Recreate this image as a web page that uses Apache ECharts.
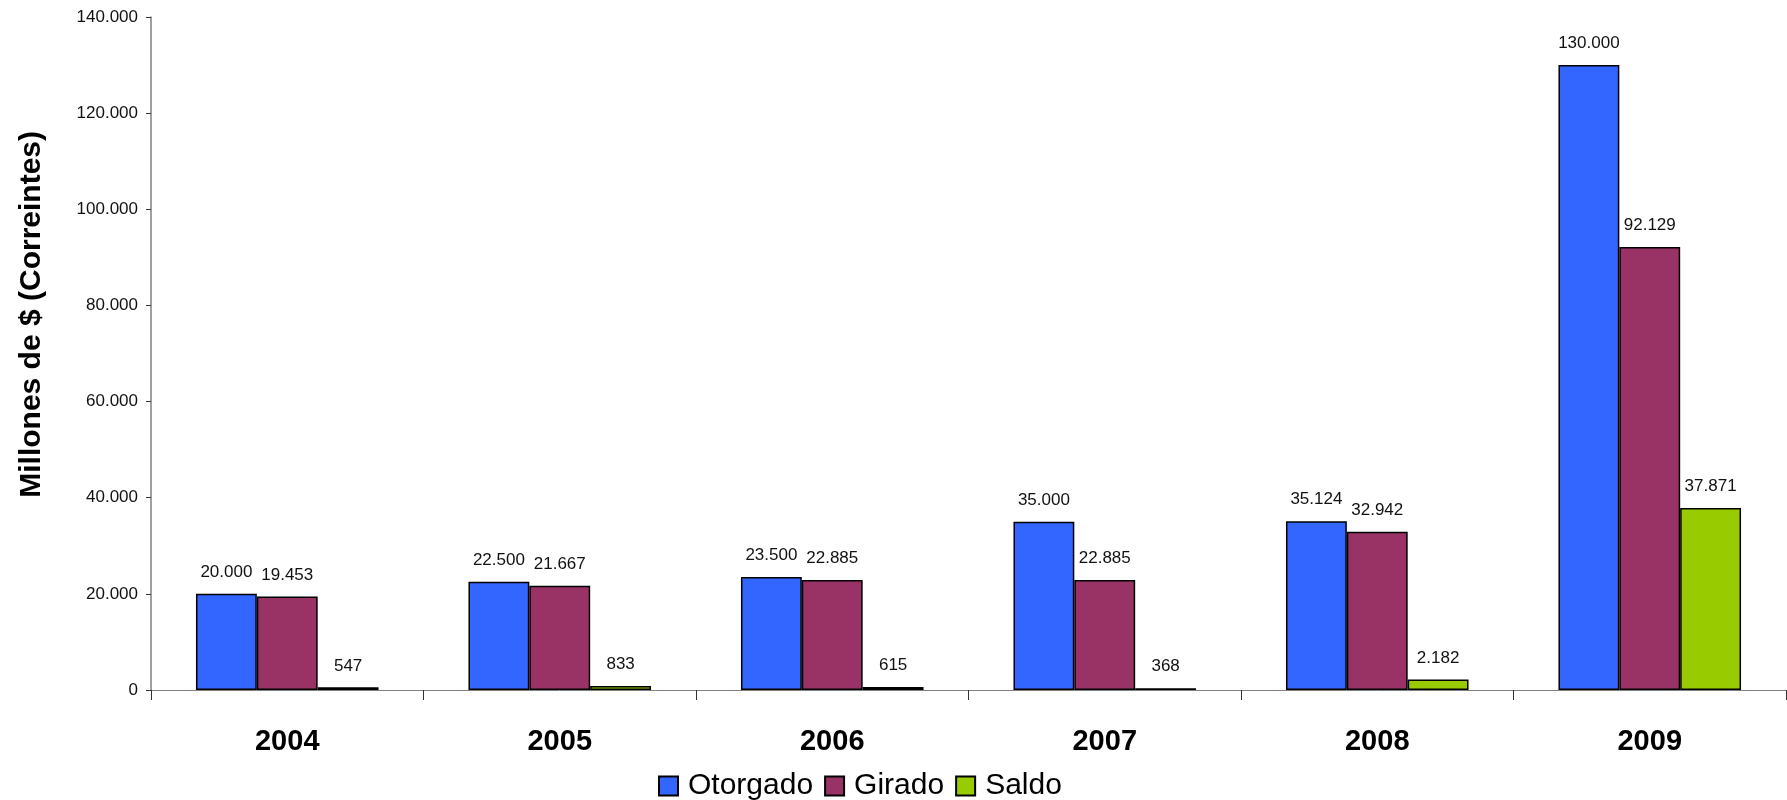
<!DOCTYPE html>
<html lang="es">
<head>
    <meta charset="UTF-8">
    <title>Otorgado / Girado / Saldo</title>
    <script src="https://cdn.jsdelivr.net/npm/echarts@6/dist/echarts.min.js"></script>
    <style>
        html, body { margin: 0; height: 100%; background: #fff; }
        #main { width: 1787px; height: 800px; }
    </style>
</head>
<body>
    <div id="main"></div>
    <script type="text/javascript">
        const years = ['2004', '2005', '2006', '2007', '2008', '2009'];
        const otorgado = [20000, 22500, 23500, 35000, 35124, 130000];
        const girado = [19453, 21667, 22885, 22885, 32942, 92129];
        const saldo = [547, 833, 615, 368, 2182, 37871];

        const FONT = '"Liberation Sans", Arial, sans-serif';
        // miles con punto, estilo es
        const fmt = v => String(Math.round(v)).replace(/\B(?=(\d{3})+(?!\d))/g, '.');

        const myChart = echarts.init(document.getElementById('main'));

        const barSeries = (name, data, color) => ({
            name: name,
            type: 'bar',
            data: data,
            barGap: 0,
            barCategoryGap: '33%',
            itemStyle: { color: color, borderColor: '#000', borderWidth: 1.5 },
            label: {
                show: true,
                position: 'top',
                distance: 13,
                color: '#111',
                fontFamily: FONT,
                fontSize: 17,
                formatter: p => fmt(p.value)
            }
        });

        myChart.setOption({
            animation: false,
            textStyle: { fontFamily: FONT },
            grid: { left: 151, right: 1, top: 17, bottom: 110, containLabel: false },
            legend: {
                left: 653,
                top: 766,
                itemWidth: 19,
                itemHeight: 19,
                itemGap: 11,
                icon: 'rect',
                textStyle: { fontSize: 30, color: '#000', fontFamily: FONT, padding: [0, 0, 0, 5] },
                data: ['Otorgado', 'Girado', 'Saldo']
            },
            xAxis: {
                type: 'category',
                data: years,
                axisLine: { lineStyle: { color: '#808080', width: 1 } },
                axisTick: { show: true, length: 10, lineStyle: { color: '#333' } },
                axisLabel: {
                    fontSize: 29,
                    fontWeight: 'bold',
                    color: '#000',
                    margin: 37
                }
            },
            yAxis: {
                type: 'value',
                min: 0,
                max: 140000,
                interval: 20000,
                splitLine: { show: false },
                axisLine: { show: true, lineStyle: { color: '#808080', width: 1.5 } },
                axisTick: { show: true, length: 5, lineStyle: { color: '#333' } },
                axisLabel: {
                    fontSize: 17,
                    color: '#111',
                    margin: 13,
                    formatter: fmt
                }
            },
            graphic: [{
                type: 'text',
                left: 17,
                top: 131,
                rotation: Math.PI / 2,
                style: {
                    text: 'Millones de $ (Correintes)',
                    font: 'bold 30px ' + FONT,
                    fill: '#000'
                }
            }],
            series: [
                barSeries('Otorgado', otorgado, '#3366FF'),
                barSeries('Girado', girado, '#993366'),
                barSeries('Saldo', saldo, '#99CC00')
            ]
        });
    </script>
</body>
</html>
